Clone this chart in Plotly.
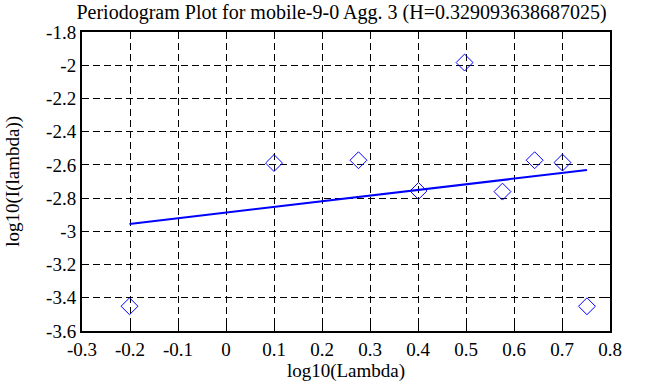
import plotly.graph_objects as go

log_lambda = [-0.201, 0.100, 0.276, 0.401, 0.497, 0.576, 0.643, 0.701, 0.752]
log_I = [-3.451, -2.589, -2.572, -2.757, -1.984, -2.761, -2.572, -2.586, -3.451]
fit_x = [-0.201, 0.752]
fit_y = [-2.956, -2.631]

x_ticks = [-0.3, -0.2, -0.1, 0, 0.1, 0.2, 0.3, 0.4, 0.5, 0.6, 0.7, 0.8]
x_labels = ["-0.3", "-0.2", "-0.1", "0", "0.1", "0.2", "0.3", "0.4", "0.5", "0.6", "0.7", "0.8"]
y_ticks = [-1.8, -2.0, -2.2, -2.4, -2.6, -2.8, -3.0, -3.2, -3.4, -3.6]
y_labels = ["-1.8", "-2", "-2.2", "-2.4", "-2.6", "-2.8", "-3", "-3.2", "-3.4", "-3.6"]

font = "Liberation Serif"
fs = 19

fig = go.Figure()
fig.add_trace(go.Scatter(x=log_lambda, y=log_I, mode="markers",
                         marker=dict(symbol="diamond-open", size=13, color="blue",
                                     line=dict(width=1, color="blue")),
                         showlegend=False))
fig.add_trace(go.Scatter(x=fit_x, y=fit_y, mode="lines",
                         line=dict(color="blue", width=2), showlegend=False))

axis_common = dict(showgrid=True, gridcolor="black", griddash="7px,4px", gridwidth=1,
                   showline=True, linecolor="black", linewidth=2, mirror="allticks",
                   ticks="inside", ticklen=6, tickcolor="black", tickwidth=1,
                   zeroline=False, automargin=False,
                   tickfont=dict(family=font, size=fs, color="black"))

fig.update_layout(
    width=653, height=387,
    margin=dict(l=82, r=43, t=32, b=56),
    paper_bgcolor="white", plot_bgcolor="white",
    title=dict(text="Periodogram Plot for mobile-9-0 Agg. 3 (H=0.329093638687025)",
               x=0.523, xanchor="center", y=0.968, yanchor="middle",
               font=dict(family=font, size=20, color="black")),
    xaxis=dict(range=[-0.3, 0.8], tickvals=x_ticks, ticktext=x_labels,
               title=dict(text="log10(Lambda)", font=dict(family=font, size=fs, color="black"),
                          standoff=2),
               **axis_common),
    yaxis=dict(range=[-3.6, -1.8], tickvals=y_ticks, ticktext=y_labels,
               **axis_common),
    annotations=[dict(text="log10(I(lambda))", xref="paper", yref="paper",
                      x=-0.131, y=0.502, xanchor="center", yanchor="middle",
                      textangle=-90, showarrow=False,
                      font=dict(family=font, size=fs, color="black"))],
)

fig.write_html("out.html", config={"displayModeBar": False},
               post_script="document.body.style.margin='0';")
